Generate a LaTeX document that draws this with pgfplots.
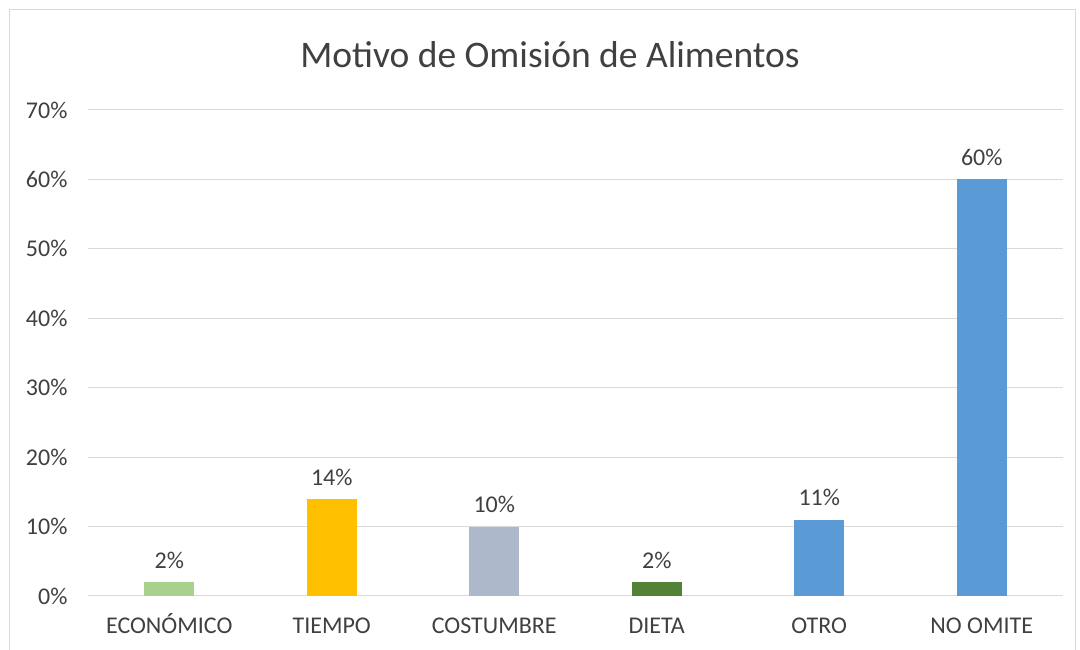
\documentclass[border=0pt]{standalone}
\usepackage{fontspec}
\setmainfont{Carlito}
\usepackage{pgfplots}
\pgfplotsset{compat=1.18}
\definecolor{gridc}{HTML}{D9D9D9}
\definecolor{txt}{HTML}{404040}
\definecolor{lgreen}{HTML}{A9D18E}
\definecolor{gold}{HTML}{FFC000}
\definecolor{bluegray}{HTML}{ADB9CA}
\definecolor{dgreen}{HTML}{538135}
\definecolor{sky}{HTML}{5B9BD5}
\begin{document}
\begin{tikzpicture}
\path[use as bounding box] (-88pt,-54pt) rectangle (992pt,596pt);
\draw[gridc,line width=1pt] (-78pt,-70pt) -- (-78pt,586pt) -- (987pt,586pt) -- (987pt,-70pt);
\node[txt,font=\fontsize{37.5}{44}\selectfont] at (462pt,541pt) {Motivo de Omisión de Alimentos};
\begin{axis}[
    scale only axis,
    width=975pt,height=486pt,
    xmin=-0.5,xmax=5.5,
    ymin=0,ymax=70,
    ytick={0,10,...,70},
    yticklabel={\pgfmathprintnumber{\tick}\%},
    xtick={0,...,5},
    xticklabels={ECONÓMICO,TIEMPO,COSTUMBRE,DIETA,OTRO,NO OMITE},
    /pgf/number format/assume math mode=true,
    tick label style={font=\fontsize{24}{28}\selectfont,text=txt},
    yticklabel style={xshift=-17pt},
    xticklabel style={anchor=base,yshift=-38pt},
    major tick length=0pt,
    axis line style={draw=none},
    ymajorgrids,
    grid style={gridc,line width=1pt},
    ybar,bar width=50pt,bar shift=0pt,
    nodes near coords={\pgfmathprintnumber{\pgfplotspointmeta}\%},
    nodes near coords style={font=\fontsize{24}{28}\selectfont,text=txt,anchor=south,yshift=10pt},
    point meta=y,
]
\addplot[fill=lgreen,draw=none] coordinates {(0,2)};
\addplot[fill=gold,draw=none] coordinates {(1,14)};
\addplot[fill=bluegray,draw=none] coordinates {(2,10)};
\addplot[fill=dgreen,draw=none] coordinates {(3,2)};
\addplot[fill=sky,draw=none] coordinates {(4,11)};
\addplot[fill=sky,draw=none] coordinates {(5,60)};
\end{axis}
\end{tikzpicture}
\end{document}
